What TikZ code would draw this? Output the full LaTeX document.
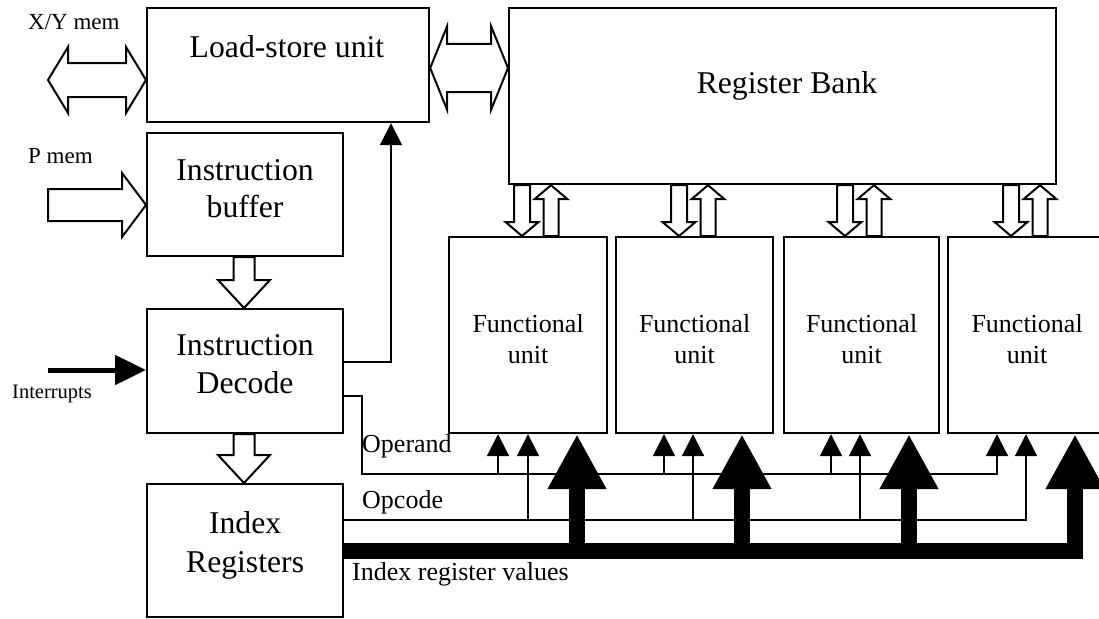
\documentclass[tikz,border=0pt]{standalone}
\usepackage{fontspec}
\setmainfont{Liberation Serif}
\usetikzlibrary{calc,arrows.meta}

% Hollow vertical block arrow.
% #1 x as "x,0", #2 tail anchor, #3 tip anchor, #4 shaft half width, #5 head half width, #6 head length
\newcommand\vblock[6]{%
  \draw[hollow] let \p1=(#1 |- #2), \p2=(#1 |- #3), \p3=($(\p2)!#6!(\p1)$) in
    ({\x1-#4},\y1) -- ({\x1-#4},\y3) -- ({\x1-#5},\y3) -- (\p2)
    -- ({\x1+#5},\y3) -- ({\x1+#4},\y3) -- ({\x1+#4},\y1) -- cycle;}
% Hollow horizontal block arrow, same arguments with #1 = "0,y"
\newcommand\hblock[6]{%
  \draw[hollow] let \p1=(#2 |- #1), \p2=(#3 |- #1), \p3=($(\p2)!#6!(\p1)$) in
    (\x1,{\y1-#4}) -- (\x3,{\y1-#4}) -- (\x3,{\y1-#5}) -- (\p2)
    -- (\x3,{\y1+#5}) -- (\x3,{\y1+#4}) -- (\x1,{\y1+#4}) -- cycle;}
% Hollow horizontal double-headed block arrow
\newcommand\hdouble[6]{%
  \draw[hollow] let \p1=(#2 |- #1), \p2=(#3 |- #1),
      \p3=($(\p1)!#6!(\p2)$), \p4=($(\p2)!#6!(\p1)$) in
    (\p1) -- (\x3,{\y1+#5}) -- (\x3,{\y1+#4}) -- (\x4,{\y1+#4}) -- (\x4,{\y1+#5})
    -- (\p2) -- (\x4,{\y1-#5}) -- (\x4,{\y1-#4}) -- (\x3,{\y1-#4}) -- (\x3,{\y1-#5}) -- cycle;}

\tikzset{
  unitbox/.style={draw, line width=2.2pt, inner sep=0pt, anchor=north west},
  big/.style={font=\fontsize{31.7}{38}\selectfont, inner sep=0pt, anchor=base},
  mid/.style={font=\fontsize{26}{31}\selectfont, inner sep=0pt, anchor=base},
  note/.style={font=\fontsize{26}{31}\selectfont, inner sep=0pt, anchor=base west},
  memlbl/.style={font=\fontsize{23}{28}\selectfont, inner sep=0pt, anchor=base west},
  hollow/.style={draw, line width=2pt, line join=miter},
  sig/.style={line width=2pt, -{Triangle[length=22pt,width=22pt]}},
  irqline/.style={line width=5pt, -{Triangle[length=31pt,width=29pt]}},
  bus/.style={line width=15.5pt, line join=miter, -{Triangle[length=55pt,width=55pt]}},
}

\begin{document}
\begin{tikzpicture}[x=1pt,y=-1pt]
\useasboundingbox (0,0) rectangle (1099,618);
\clip (0,0) rectangle (1099,618);

% boxes
\node[unitbox, minimum width=282pt, minimum height=114pt] (lsu) at (146,7) {};
\node[unitbox, minimum width=196pt, minimum height=123pt] (ib) at (146,132) {};
\node[unitbox, minimum width=196pt, minimum height=124pt] (id) at (146,308) {};
\node[unitbox, minimum width=196pt, minimum height=133pt] (ir) at (146,483) {};
\node[unitbox, minimum width=547pt, minimum height=176pt] (rb) at (508,7) {};
\node[unitbox, minimum width=158pt, minimum height=196pt] (fu1) at (448,236) {};
\node[unitbox, minimum width=157pt, minimum height=196pt] (fu2) at (615,236) {};
\node[unitbox, minimum width=155pt, minimum height=196pt] (fu3) at (783,236) {};
\node[unitbox, minimum width=158pt, minimum height=196pt] (fu4) at (947,236) {};

% box texts
\node[big] (lsut) at (287,58) {Load-store unit};
\node[big] (ibt1) at (ib.center |- 0,180) {Instruction};
\node[big] (ibt2) at (ib.center |- 0,217) {buffer};
\node[big] (idt1) at (id.center |- 0,355) {Instruction};
\node[big] (idt2) at (id.center |- 0,393) {Decode};
\node[big] (irt1) at (ir.center |- 0,533) {Index};
\node[big] (irt2) at (ir.center |- 0,572) {Registers};
\node[big] (rbt) at (787,93) {Register Bank};
\foreach \f in {fu1,fu2,fu3,fu4}{
  \node[mid] (\f t1) at (\f.center |- 0,332) {Functional};
  \node[mid] (\f t2) at (\f.center |- 0,363) {unit};
}

% outside labels
\node[memlbl] (xylbl) at (28,30) {X/Y mem};
\node[memlbl] (plbl) at (28,163) {P mem};
\node[font=\fontsize{20.5}{24}\selectfont, inner sep=0pt, anchor=base west] (irqlbl) at (12,398) {Interrupts};
\node[note] (oplbl) at (362,452) {Operand};
\node[note] (opclbl) at (362,508) {Opcode};
\node[note] (irvlbl) at (352,580) {Index register values};

% free ends
\coordinate (xymem) at (48,80);
\coordinate (pmem) at (48,205);
\coordinate (irq) at (48,370);

% memory ports
\hdouble{0,80}{xymem}{lsu.west}{17pt}{33pt}{20pt}
\hdouble{0,68}{lsu.east}{rb.west}{24pt}{42pt}{17pt}
\hblock{0,205}{pmem}{ib.west}{16pt}{32pt}{24pt}

% instruction flow
\vblock{244,0}{ib.south}{id.north}{10.5pt}{26pt}{28pt}
\vblock{244,0}{id.south}{ir.north}{10.5pt}{26pt}{28pt}

% register bank <-> functional units
\foreach \d/\u/\f in {522/551/fu1, 679/708/fu2, 845/874/fu3, 1011/1040/fu4}{
  \vblock{\d,0}{rb.south}{\f.north}{8pt}{16.5pt}{14pt}
  \vblock{\u,0}{\f.north}{rb.south}{7.5pt}{16.5pt}{14pt}
}

% interrupts
\draw[irqline] (irq) -- (id.west |- irq);

% decode -> load-store unit
\draw[sig] (id.east |- 0,362) -| (391,0 |- lsu.south);

% operand line
\coordinate (opturn) at (362,474);
\draw[sig] (id.east |- 0,396) -| (opturn) -| (997,0 |- fu4.south);
\foreach \x/\f in {498/fu1, 664/fu2, 831/fu3}
  \draw[sig] (\x,0 |- opturn) -- (\x,0 |- \f.south);

% opcode line
\coordinate (opc) at (0,520);
\draw[sig] (ir.east |- opc) -| (1026,0 |- fu4.south);
\foreach \x/\f in {528/fu1, 693/fu2, 860/fu3}
  \draw[sig] (\x,0 |- opc) -- (\x,0 |- \f.south);

% index register value bus
\coordinate (ivb) at (0,551);
\draw[bus] (ir.east |- ivb) -| (1075,0 |- fu4.south);
\foreach \x/\f in {577/fu1, 742/fu2, 909/fu3}
  \draw[bus] (\x,0 |- ivb) -- (\x,0 |- \f.south);
\end{tikzpicture}
\end{document}
